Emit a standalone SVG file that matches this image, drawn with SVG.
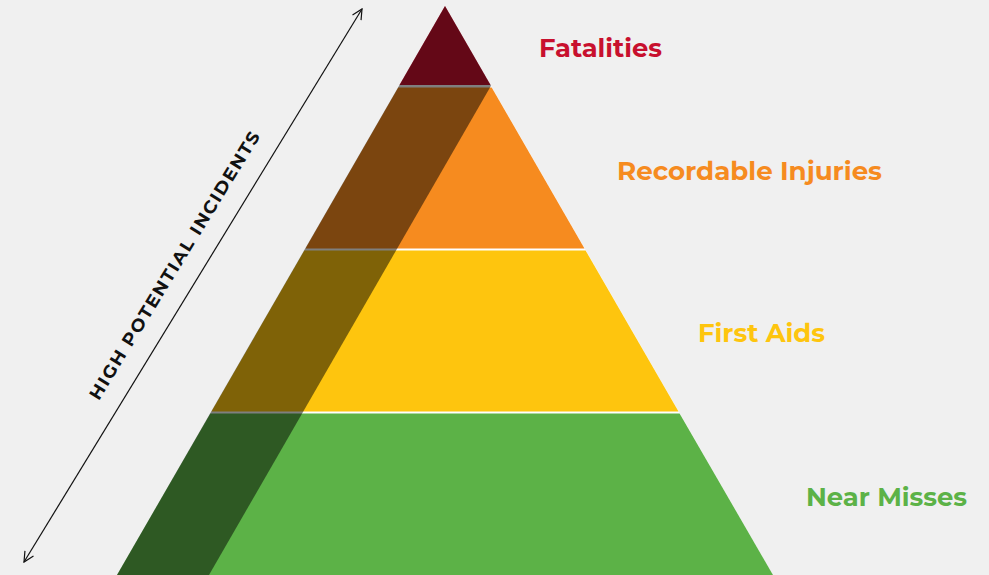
<svg xmlns="http://www.w3.org/2000/svg" width="989" height="575" viewBox="0 0 989 575">
<defs>
<style>
.lbl{font-family:Montserrat,"Open Sans","Liberation Sans",sans-serif;font-weight:700;font-size:26px}
.side{font-family:Montserrat,"Open Sans","Liberation Sans",sans-serif;font-weight:700;font-size:17.5px;letter-spacing:1.5px;fill:#111}
</style>
<marker id="ah" viewBox="0 0 12 12" refX="11" refY="6" markerWidth="12" markerHeight="12" markerUnits="userSpaceOnUse" orient="auto-start-reverse">
<path d="M1,1 L11,6 L1,11" fill="none" stroke="#111" stroke-width="1.2"/>
</marker>
</defs>
<rect width="989" height="575" fill="#f0f0f0"/>
<g id="pyramid">
<polygon points="445,6 117,575 773,575" fill="#ffffff"/>
<g id="fatalities-layer"><polygon points="445,6 490.5,85 399.5,85" fill="#c8102e"/></g>
<g id="injuries-layer"><polygon points="398.3,87.5 491.7,87.5 584.5,248.5 305.5,248.5" fill="#f68b1f"/></g>
<g id="firstaid-layer"><polygon points="304.4,250.5 585.6,250.5 678.5,411.5 211.5,411.5" fill="#fec50e"/></g>
<g id="nearmiss-layer"><polygon points="210.4,413.5 679.6,413.5 773,575 117,575" fill="#5cb247"/></g>
<polygon id="overlay" points="445,6 491,85.8 209,575 117,575" fill="#000" fill-opacity="0.5"/>
</g>
<g id="connectors">
<line x1="24" y1="562" x2="362" y2="9" stroke="#111" stroke-width="1.2" marker-start="url(#ah)" marker-end="url(#ah)"/>
</g>
<g id="side-label">
<text class="side" x="0" y="0" text-anchor="middle" textLength="312" lengthAdjust="spacingAndGlyphs" transform="translate(180,268) rotate(-58.6)">HIGH POTENTIAL INCIDENTS</text>
</g>
<g id="label-fatalities"><text class="lbl" x="539" y="57" fill="#c8102e" textLength="123" lengthAdjust="spacingAndGlyphs">Fatalities</text></g>
<g id="label-injuries"><text class="lbl" x="617" y="180" fill="#f68b1f" textLength="265" lengthAdjust="spacingAndGlyphs">Recordable Injuries</text></g>
<g id="label-firstaids"><text class="lbl" x="698" y="342" fill="#fec50e" textLength="127" lengthAdjust="spacingAndGlyphs">First Aids</text></g>
<g id="label-nearmisses"><text class="lbl" x="806" y="506" fill="#5cb247" textLength="161" lengthAdjust="spacingAndGlyphs">Near Misses</text></g>
</svg>
